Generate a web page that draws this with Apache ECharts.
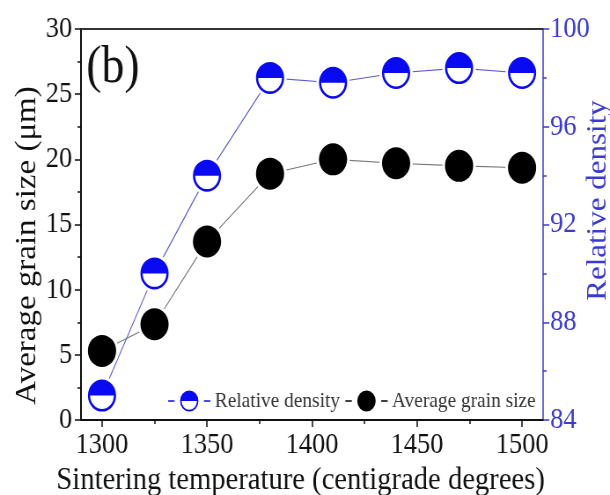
<!DOCTYPE html>
<html>
<head>
<meta charset="utf-8">
<script src="https://cdn.jsdelivr.net/npm/echarts@6/dist/echarts.min.js"></script>
<style>
  html, body { margin: 0; padding: 0; overflow: hidden; background: #fff; }
  /* The figure is laid out on a wider canvas and compressed horizontally,
     giving the narrow lettering and slightly oval markers of the figure. */
  #chart { width: 693px; height: 495px; transform: scaleX(0.8802); transform-origin: 0 0; }
</style>
</head>
<body>
<div id="chart"></div>
<script>
// Sintering temperature (°C) of each sample
const temperatures = [1300, 1325, 1350, 1380, 1410, 1440, 1470, 1500];
// Average grain size (µm), left axis
const grainSize = [5.3, 7.35, 13.7, 18.9, 20.0, 19.7, 19.5, 19.35];
// Relative density (%), right axis
const relativeDensity = [85.0, 90.0, 94.0, 98.0, 97.8, 98.2, 98.4, 98.2];

// Tick positions of the temperature axis
const xMajorTicks = [1300, 1350, 1400, 1450, 1500];
const xMinorTicks = [1325, 1375, 1425, 1475];

const FONT = 'Liberation Serif';
const INK = '#111';
const BLUE_AXIS = '#3a3ad2';
const BLUE_MARK = '#0a0af2';

const pairs = (ys) => temperatures.map((t, i) => [t, ys[i]]);
const plain = (v) => String(v);

// Half-filled marker: solid upper half, outlined lower half
const halfDisk = 'path://M0 10 A10 10 0 0 1 20 10 Z M20 10 A10 10 0 0 1 0 10 L1.6 10 A8.4 8.4 0 0 0 18.4 10 Z';
// Legend keys: short dash, marker, short dash
const densityKey = 'path://M1 10.4 H8 V11.6 H1 Z M14 11 A10 10 0 0 1 34 11 Z M34 11 A10 10 0 0 1 14 11 L15.6 11 A8.4 8.4 0 0 0 32.4 11 Z M40 10.4 H47 V11.6 H40 Z';
const grainKey = 'path://M1 10.4 H8 V11.6 H1 Z M14 11 A10 10 0 1 1 34 11 A10 10 0 1 1 14 11 Z M40 10.4 H47 V11.6 H40 Z';

const tickStyle = { color: INK, width: 1.5 };

const chart = echarts.init(document.getElementById('chart'), null, { renderer: 'canvas' });

chart.setOption({
  animation: false,
  backgroundColor: '#fff',
  title: {
    text: '(b)', left: 98, top: 42, padding: 0,
    textStyle: { fontFamily: FONT, fontSize: 52, fontWeight: 'normal', color: INK }
  },
  grid: { left: 92, right: 76, top: 29, bottom: 75, containLabel: false, outerBoundsMode: 'none' },
  legend: {
    left: 191, top: 390, padding: 0, itemGap: 6, itemWidth: 48, itemHeight: 22,
    textStyle: { fontFamily: FONT, fontSize: 22, color: '#333' },
    data: [
      { name: 'Relative density', icon: densityKey, itemStyle: { color: BLUE_MARK, borderWidth: 0, opacity: 1 } },
      { name: 'Average grain size', icon: grainKey, itemStyle: { color: '#000', borderWidth: 0, opacity: 1 } }
    ]
  },
  xAxis: [
    {
      type: 'value', position: 'bottom', min: 1290, max: 1510,
      name: 'Sintering temperature (centigrade degrees)',
      nameLocation: 'middle', nameGap: 44, nameMoveOverlap: false,
      nameTextStyle: { fontFamily: FONT, fontSize: 32.5, color: INK, padding: [0, 26, 0, 0] },
      axisLine: { show: true, onZero: false, lineStyle: { color: INK, width: 2 } },
      axisTick: { show: true, customValues: xMajorTicks, length: 7, lineStyle: tickStyle },
      axisLabel: { customValues: xMajorTicks, formatter: plain, fontFamily: FONT, fontSize: 30, color: INK, margin: 10 },
      splitLine: { show: false }
    },
    {
      type: 'value', position: 'bottom', min: 1290, max: 1510,
      axisLine: { show: false },
      axisTick: { show: true, customValues: xMinorTicks, length: 4, lineStyle: tickStyle },
      axisLabel: { show: false },
      splitLine: { show: false }
    },
    {
      type: 'value', position: 'top', min: 1290, max: 1510,
      axisLine: { show: true, onZero: false, lineStyle: { color: '#333', width: 2 } },
      axisTick: { show: false },
      axisLabel: { show: false },
      splitLine: { show: false }
    }
  ],
  yAxis: [
    {
      type: 'value', position: 'left', min: 0, max: 30, interval: 5,
      name: 'Average grain size (\u03bcm)',
      nameLocation: 'middle', nameRotate: 90, nameGap: 44, nameMoveOverlap: false,
      nameTextStyle: { fontFamily: FONT, fontSize: 33, color: INK, padding: [0, 42, 0, 0] },
      axisLine: { show: true, onZero: false, lineStyle: { color: INK, width: 2 } },
      axisTick: { show: true, length: 7, lineStyle: tickStyle },
      minorTick: { show: true, splitNumber: 2, length: 4, lineStyle: tickStyle },
      axisLabel: { formatter: plain, fontFamily: FONT, fontSize: 30, color: INK, margin: 10 },
      splitLine: { show: false },
      minorSplitLine: { show: false }
    },
    {
      type: 'value', position: 'right', min: 84, max: 100, interval: 4,
      name: 'Relative density',
      nameLocation: 'middle', nameRotate: 90, nameGap: 47, nameMoveOverlap: false,
      nameTextStyle: { fontFamily: FONT, fontSize: 31, color: BLUE_AXIS, padding: [0, 0, 0, 48] },
      axisLine: { show: true, onZero: false, lineStyle: { color: BLUE_AXIS, width: 1.5 } },
      axisTick: { show: true, length: 7, lineStyle: { color: BLUE_AXIS, width: 1.5 } },
      minorTick: { show: true, splitNumber: 2, length: 4, lineStyle: { color: BLUE_AXIS, width: 1.5 } },
      axisLabel: { formatter: plain, fontFamily: FONT, fontSize: 30, color: BLUE_AXIS, margin: 8 },
      splitLine: { show: false },
      minorSplitLine: { show: false }
    }
  ],
  series: [
    {
      name: 'densityTrend', type: 'line', yAxisIndex: 1, data: pairs(relativeDensity),
      symbol: 'none', z: 2, silent: true,
      lineStyle: { color: '#5c5cd0', width: 1.1 }
    },
    {
      name: 'grainTrend', type: 'line', yAxisIndex: 0, data: pairs(grainSize),
      symbol: 'none', z: 2, silent: true,
      lineStyle: { color: '#777', width: 1.1 }
    },
    {
      name: 'densityGap', type: 'scatter', yAxisIndex: 1, data: pairs(relativeDensity),
      symbol: 'circle', symbolSize: 38, z: 3, silent: true,
      itemStyle: { color: '#fff', opacity: 1 }
    },
    {
      name: 'grainGap', type: 'scatter', yAxisIndex: 0, data: pairs(grainSize),
      symbol: 'circle', symbolSize: 38, z: 3, silent: true,
      itemStyle: { color: '#fff', opacity: 1 }
    },
    {
      name: 'Relative density', type: 'scatter', yAxisIndex: 1, data: pairs(relativeDensity),
      symbol: halfDisk, symbolSize: 32, symbolKeepAspect: true, z: 4,
      itemStyle: { color: BLUE_MARK, opacity: 1 }
    },
    {
      name: 'Average grain size', type: 'scatter', yAxisIndex: 0, data: pairs(grainSize),
      symbol: 'circle', symbolSize: 32, z: 4,
      itemStyle: { color: '#000', opacity: 1 }
    }
  ]
});
</script>
</body>
</html>
